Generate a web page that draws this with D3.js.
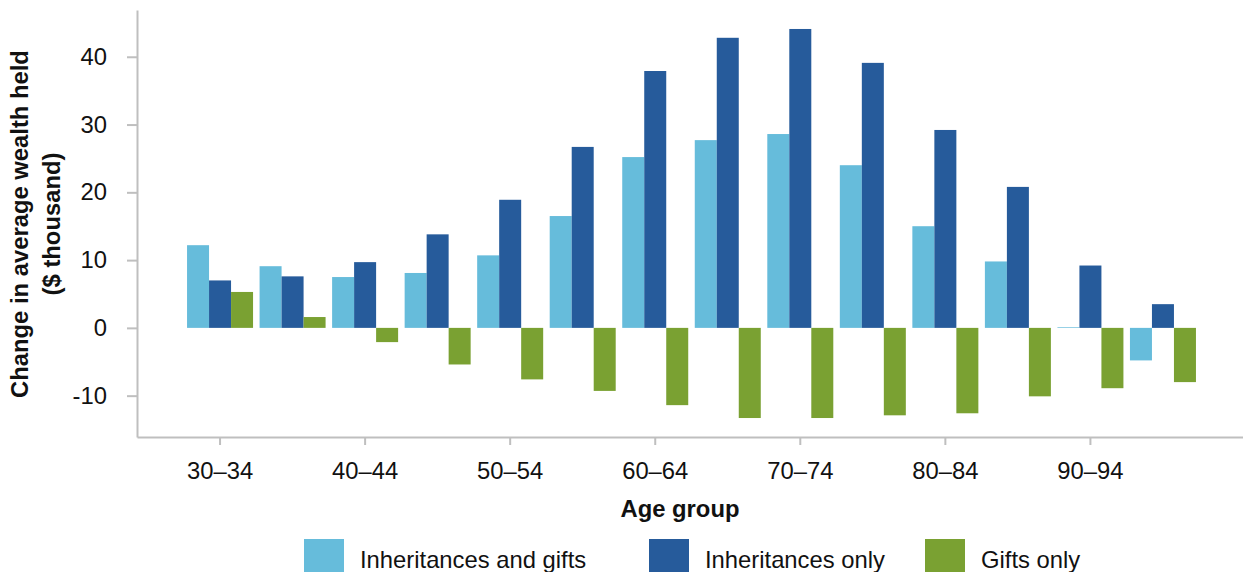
<!DOCTYPE html>
<html>
<head>
<meta charset="utf-8">
<script src="https://cdn.jsdelivr.net/npm/d3@7"></script>
<style>
  html, body { margin: 0; padding: 0; background: #fff; }
  svg { display: block; font-family: "Liberation Sans", Arial, sans-serif; }
</style>
</head>
<body>
<svg id="chart" width="1243" height="572"></svg>
<script>
// ---- Data ----
const categories = ["30–34","35–39","40–44","45–49","50–54","55–59","60–64","65–69","70–74","75–79","80–84","85–89","90–94","95–99"];
const seriesNames = ["Inheritances and gifts", "Inheritances only", "Gifts only"];
const inheritancesAndGifts = [12.2, 9.1, 7.5, 8.1, 10.7, 16.5, 25.2, 27.7, 28.6, 24.0, 15.0, 9.8, 0.1, -4.8];
const inheritancesOnly     = [7.0, 7.6, 9.7, 13.8, 18.9, 26.7, 37.9, 42.8, 44.1, 39.1, 29.2, 20.8, 9.2, 3.5];
const giftsOnly            = [5.3, 1.6, -2.1, -5.4, -7.6, -9.3, -11.4, -13.3, -13.3, -12.9, -12.6, -10.1, -8.9, -8.0];
const yTickValues = [-10, 0, 10, 20, 30, 40];
const xTickLabels = ["30–34","40–44","50–54","60–64","70–74","80–84","90–94"];
const colors = ["#66bcdb", "#265b9b", "#7aa132"];

const seriesValues = [inheritancesAndGifts, inheritancesOnly, giftsOnly];

// ---- Layout ----
const svg = d3.select("#chart");
const axisColor = "#bfbfbf";
const textColor = "#111";
const fontSize = "23.8px";

const x0 = d3.scaleBand().domain(categories).range([137, 1246]).paddingInner(0.09).paddingOuter(0.69);
const x1 = d3.scaleBand().domain(seriesNames).range([0, x0.bandwidth()]).padding(0);
const y = d3.scaleLinear().domain([-16.1, 46.9]).range([437, 10]);

// Bars
const groups = svg.append("g").selectAll("g")
  .data(categories)
  .join("g")
  .attr("transform", d => `translate(${x0(d)},0)`);

groups.selectAll("rect")
  .data((d, i) => seriesNames.map((s, j) => ({ s, j, v: seriesValues[j][i] })))
  .join("rect")
  .attr("x", d => x1(d.s))
  .attr("width", x1.bandwidth())
  .attr("y", d => y(Math.max(0, d.v)))
  .attr("height", d => Math.abs(y(d.v) - y(0)))
  .attr("fill", d => colors[d.j]);

// Y axis
const yAxis = svg.append("g")
  .attr("transform", "translate(137,0)")
  .call(d3.axisLeft(y).tickValues(yTickValues).tickSize(10).tickSizeOuter(0).tickPadding(20).tickFormat(d => String(d)));
yAxis.select(".domain").attr("stroke", axisColor).attr("stroke-width", 2);
yAxis.selectAll(".tick line").attr("stroke", axisColor).attr("stroke-width", 2);
yAxis.selectAll(".tick text").attr("fill", textColor).style("font-size", fontSize).style("font-family", "Liberation Sans, Arial, sans-serif");

// X axis
const xAxis = svg.append("g")
  .attr("transform", "translate(0,437)")
  .call(d3.axisBottom(x0).tickValues(xTickLabels).tickSize(8).tickSizeOuter(0).tickPadding(17));
xAxis.select(".domain").attr("stroke", axisColor).attr("stroke-width", 2);
xAxis.selectAll(".tick line").attr("stroke", axisColor).attr("stroke-width", 2);
xAxis.selectAll(".tick text").attr("fill", textColor).style("font-size", fontSize).style("font-family", "Liberation Sans, Arial, sans-serif");

// Axis titles
svg.append("text")
  .attr("x", 680).attr("y", 517)
  .attr("text-anchor", "middle")
  .attr("fill", textColor)
  .style("font-size", fontSize).style("font-weight", "bold")
  .text("Age group");

const yTitleLines = ["Change in average wealth held", "($ thousand)"];
svg.selectAll(".ytitle")
  .data(yTitleLines)
  .join("text")
  .attr("class", "ytitle")
  .attr("transform", (d, i) => `translate(${28 + i * 32},224) rotate(-90)`)
  .attr("text-anchor", "middle")
  .attr("fill", textColor)
  .style("font-size", fontSize).style("font-weight", "bold")
  .text(d => d);

// Legend
const legendX = [304, 649, 925];
const legend = svg.append("g").selectAll("g")
  .data(seriesNames)
  .join("g")
  .attr("transform", (d, i) => `translate(${legendX[i]},539)`);
legend.append("rect")
  .attr("width", 40).attr("height", 40)
  .attr("fill", (d, i) => colors[i]);
legend.append("text")
  .attr("x", 56).attr("y", 29)
  .attr("fill", textColor)
  .style("font-size", fontSize)
  .text(d => d);
</script>
</body>
</html>
